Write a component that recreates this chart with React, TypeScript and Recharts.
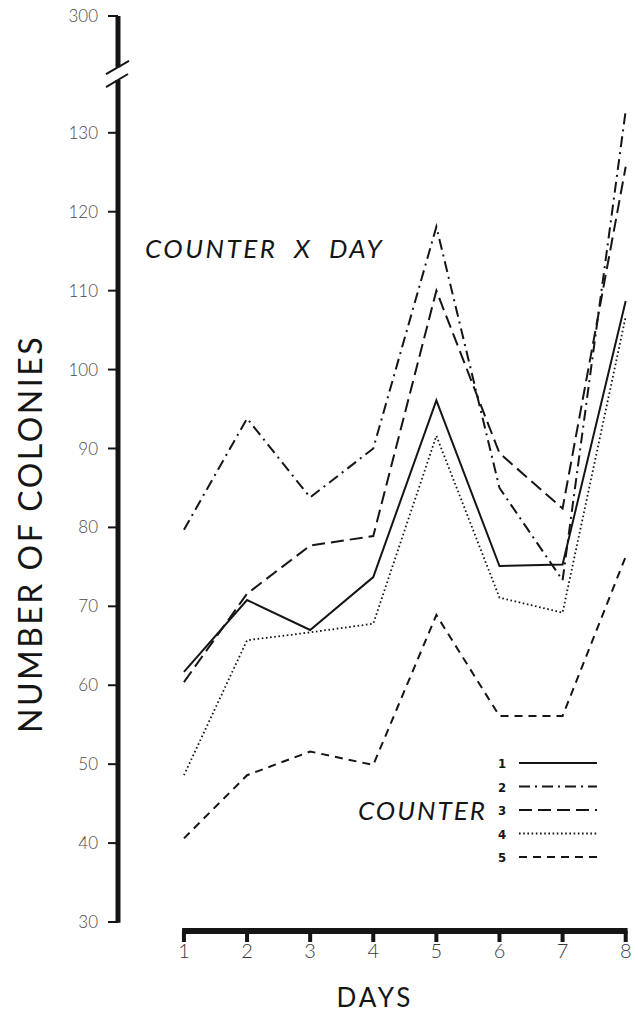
import React from "react";
import {
  LineChart,
  Line,
  XAxis,
  YAxis,
  ReferenceLine,
  Legend,
  Customized,
} from "recharts";

// ---- data ----
const days = [1, 2, 3, 4, 5, 6, 7, 8];
const counter1 = [61.7, 70.8, 67.0, 73.7, 96.1, 75.1, 75.3, 108.7];
const counter2 = [79.7, 93.8, 83.8, 90.0, 118.1, 85.0, 73.3, 132.8];
const counter3 = [60.4, 71.6, 77.7, 78.9, 110.0, 89.4, 82.4, 125.7];
const counter4 = [48.6, 65.7, 66.7, 67.8, 91.6, 71.1, 69.2, 106.7];
const counter5 = [40.6, 48.6, 51.6, 49.9, 68.9, 56.1, 56.1, 76.3];
const seriesLabels = ["1", "2", "3", "4", "5"];
const yTicks = [30, 40, 50, 60, 70, 80, 90, 100, 110, 120, 130, 144.8];
const yTopLabel = "300";

const data = days.map((d, i) => ({
  day: d,
  s1: counter1[i],
  s2: counter2[i],
  s3: counter3[i],
  s4: counter4[i],
  s5: counter5[i],
}));

const INK = "#151515";
const seriesStyles = [
  { key: "s1", dash: undefined as string | undefined, width: 2 },
  { key: "s2", dash: "11 5 2 5", width: 2 },
  { key: "s3", dash: "13 6", width: 2 },
  { key: "s4", dash: "1.6 2.6", width: 1.8 },
  { key: "s5", dash: "8 6", width: 2 },
];

const X_MIN = -0.045;
const X_MAX = 8.1;
const Y_MIN = 28.86;
const Y_MAX = 144.8;

const LegendBox = () => (
  <svg width={110} height={120} style={{ display: "block" }}>
    {seriesStyles.map((s, i) => {
      const y = 13 + i * 23.5;
      return (
        <g key={s.key}>
          <text
            x={7}
            y={y + 5}
            fontFamily="'Liberation Sans Narrow', 'DejaVu Sans Condensed', sans-serif"
            fontWeight="bold"
            fontSize={13}
            fill={INK}
            textAnchor="middle"
          >
            {seriesLabels[i]}
          </text>
          <line
            x1={24}
            x2={102}
            y1={y}
            y2={y}
            stroke={INK}
            strokeWidth={s.width}
            strokeDasharray={s.dash}
          />
        </g>
      );
    })}
  </svg>
);

const Annotations = () => (
  <g fontFamily="Lato, 'Open Sans', sans-serif" fill={INK}>
    <text
      x={145}
      y={258}
      fontSize={26}
      fontStyle="italic"
      letterSpacing={2.5}
      wordSpacing={8}
    >
      COUNTER X DAY
    </text>
    <text x={358} y={820} fontSize={26} fontStyle="italic" letterSpacing={2}>
      COUNTER
    </text>
    <text
      transform="translate(42,534) rotate(-90)"
      textAnchor="middle"
      fontSize={32}
      letterSpacing={2.5}
    >
      NUMBER OF COLONIES
    </text>
    <text x={375} y={1007} textAnchor="middle" fontSize={26} letterSpacing={3}>
      DAYS
    </text>
  </g>
);

export default function App() {
  const yTickStyle = {
    fill: "#4a4a4a",
    fontSize: 17,
    fontWeight: 300,
    fontFamily: "Lato, 'Open Sans', sans-serif",
  };
  const xTickStyle = {
    fill: "#3a3a3a",
    fontSize: 20,
    fontWeight: 300,
    fontFamily: "Lato, 'Open Sans', sans-serif",
  };
  return (
    <div style={{ position: "absolute", left: 0, top: 0, width: 638, height: 1013, background: "#fff" }}>
      <LineChart
        width={638}
        height={1013}
        data={data}
        margin={{ top: 16, right: 6, bottom: 52, left: 58 }}
      >
        <XAxis
          dataKey="day"
          type="number"
          domain={[X_MIN, X_MAX]}
          ticks={days}
          allowDataOverflow
          axisLine={false}
          tickLine={{ stroke: INK, strokeWidth: 4 }}
          tickSize={11}
          tickMargin={2}
          height={30}
          tick={xTickStyle}
        />
        <YAxis
          type="number"
          domain={[Y_MIN, Y_MAX]}
          ticks={yTicks}
          allowDataOverflow
          axisLine={false}
          tickLine={{ stroke: INK, strokeWidth: 2 }}
          tickSize={10}
          tickMargin={10}
          width={60}
          tick={yTickStyle}
          tickFormatter={(v: number) => (v > 140 ? yTopLabel : String(v))}
        />
        {/* y axis line with break */}
        <ReferenceLine
          segment={[{ x: X_MIN, y: 29.9 }, { x: X_MIN, y: 136.7 }]}
          stroke={INK}
          strokeWidth={5}
          ifOverflow="visible"
        />
        <ReferenceLine
          segment={[{ x: X_MIN, y: 138.3 }, { x: X_MIN, y: Y_MAX }]}
          stroke={INK}
          strokeWidth={5}
          ifOverflow="visible"
        />
        <ReferenceLine
          segment={[{ x: -0.235, y: 137.45 }, { x: 0.129, y: 139.1 }]}
          stroke={INK}
          strokeWidth={2}
          ifOverflow="visible"
        />
        <ReferenceLine
          segment={[{ x: -0.235, y: 135.8 }, { x: 0.113, y: 137.45 }]}
          stroke={INK}
          strokeWidth={2}
          ifOverflow="visible"
        />
        {/* x axis line */}
        <ReferenceLine
          segment={[{ x: 0.97, y: Y_MIN }, { x: 8.03, y: Y_MIN }]}
          stroke={INK}
          strokeWidth={6}
          ifOverflow="visible"
        />
        {seriesStyles.map((s) => (
          <Line
            key={s.key}
            type="linear"
            dataKey={s.key}
            stroke={INK}
            strokeWidth={s.width}
            strokeDasharray={s.dash}
            dot={false}
            activeDot={false}
            isAnimationActive={false}
          />
        ))}
        <Legend
          layout="horizontal"
          verticalAlign="middle"
          align="center"
          wrapperStyle={{ left: 495, top: 750, width: 110 }}
          content={() => <LegendBox />}
        />
        <Customized component={<Annotations />} />
      </LineChart>
    </div>
  );
}
